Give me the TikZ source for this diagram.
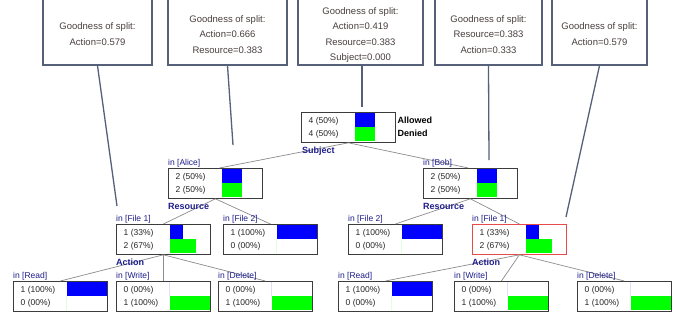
\documentclass[tikz,border=0pt]{standalone}
\usepackage{fontspec}
\setmainfont{Liberation Sans}
\usetikzlibrary{calc}
\definecolor{cline}{HTML}{56607A}
\definecolor{ctext}{HTML}{4A3F3F}
\definecolor{navy}{HTML}{1E1E8C}
\definecolor{bblue}{HTML}{0000FF}
\definecolor{bgreen}{HTML}{00FF00}
\definecolor{edgegray}{HTML}{8C8C8C}
\definecolor{nborder}{HTML}{3C3C3C}
\definecolor{hred}{HTML}{E84A4A}
\tikzset{
 callbox/.style={draw=cline, line width=1.3pt, fill=white, inner sep=0pt},
 calltext/.style={align=center, text=ctext, font=\fontsize{9.5}{15.5}\selectfont, inner sep=0pt},
 callline/.style={draw=cline, line width=1.3pt},
 tbox/.style={draw=nborder, line width=0.8pt, fill=white, minimum width=94pt, minimum height=30pt, inner sep=0pt, anchor=north west},
 rowtxt/.style={font=\fontsize{8.5}{10}\selectfont, text=black!85, inner sep=0pt, anchor=west},
 inlbl/.style={font=\fontsize{8.5}{10}\selectfont, text=navy, inner sep=0pt, anchor=base west},
 splitlbl/.style={font=\bfseries\fontsize{9}{10}\selectfont, text=navy, inner sep=0pt, anchor=base west},
 legendlbl/.style={font=\bfseries\fontsize{9}{10}\selectfont, text=black, inner sep=0pt, anchor=west},
 tedge/.style={draw=edgegray, line width=0.7pt},
}
\newcommand{\treenode}[7]{%
  \node[tbox,#7] (#1) at (#2) {};
  \fill[bblue] ($(#1.north west)+(53.5,1.2)$) rectangle ++(#5,14);
  \fill[bgreen] ($(#1.north west)+(53.5,15.2)$) rectangle ++(#6,14);
  \node[rowtxt] (#1-a) at ($(#1.north west)+(7.5,9)$) {#3};
  \node[rowtxt] (#1-b) at ($(#1.north west)+(7.5,22)$) {#4};
}
\begin{document}
\begin{tikzpicture}[x=1pt,y=-1pt]
\useasboundingbox (0,0) rectangle (689,322);
\clip (0,0) rectangle (689,322);
\fill[white] (0,0) rectangle (689,322);

% callout boxes
\node[callbox, minimum width=109pt, minimum height=66pt] (c1) at (97.5,32) {};
\node[callbox, minimum width=119pt, minimum height=66pt] (c2) at (227.5,32) {};
\node[callbox, minimum width=125pt, minimum height=66pt] (c3) at (360.5,32) {};
\node[callbox, minimum width=107pt, minimum height=66pt] (c4) at (488.5,32) {};
\node[callbox, minimum width=95pt, minimum height=66pt] (c5) at (599.5,32) {};
\node[calltext] (t1) at (97.5,34) {Goodness of split:\\Action=0.579};
\node[calltext] (t2) at (227.5,34.5) {Goodness of split:\\Action=0.666\\Resource=0.383};
\node[calltext] (t3) at (360.5,35) {Goodness of split:\\Action=0.419\\Resource=0.383\\Subject=0.000};
\node[calltext] (t4) at (488.5,34.5) {Goodness of split:\\Resource=0.383\\Action=0.333};
\node[calltext] (t5) at (599.5,34) {Goodness of split:\\Action=0.579};

\coordinate (p1) at (117,206);
\coordinate (p2) at (233,145);
\coordinate (p3) at (362,107);
\coordinate (p4) at (489,160);
\coordinate (p5) at (566,217);

% tree nodes
\treenode{root}{301,112}{4 (50\%)}{4 (50\%)}{20}{20}{}
\treenode{alice}{168,168}{2 (50\%)}{2 (50\%)}{20}{20}{}
\treenode{bob}{423,168}{2 (50\%)}{2 (50\%)}{20}{20}{}
\treenode{f1L}{116,224}{1 (33\%)}{2 (67\%)}{13.2}{26.8}{}
\treenode{f2L}{223,224}{1 (100\%)}{0 (00\%)}{40}{0}{}
\treenode{readL}{13,281}{1 (100\%)}{0 (00\%)}{40}{0}{}
\treenode{writeL}{116,281}{0 (00\%)}{1 (100\%)}{0}{40}{}
\treenode{delL}{218,281}{0 (00\%)}{1 (100\%)}{0}{40}{}
\treenode{f2R}{348,224}{1 (100\%)}{0 (00\%)}{40}{0}{}
\treenode{f1R}{472,224}{1 (33\%)}{2 (67\%)}{13.2}{26.8}{draw=hred}
\treenode{readR}{338,281}{1 (100\%)}{0 (00\%)}{40}{0}{}
\treenode{writeR}{454,281}{0 (00\%)}{1 (100\%)}{0}{40}{}
\treenode{delR}{577,281}{0 (00\%)}{1 (100\%)}{0}{40}{}

% tree edges
\draw[tedge] (root.south) -- ([xshift=4pt]alice.north);
\draw[tedge] (root.south) -- ([xshift=-2pt]bob.north);
\draw[tedge] (alice.south) -- (f1L.north);
\draw[tedge] (alice.south) -- (f2L.north);
\draw[tedge] (f1L.south) -- (readL.north);
\draw[tedge] (f1L.south) -- (writeL.north);
\draw[tedge] (f1L.south) -- (delL.north);
\draw[tedge] (bob.south) -- (f2R.north);
\draw[tedge] (bob.south) -- (f1R.north);
\draw[tedge] (f1R.south) -- (readR.north);
\draw[tedge] (f1R.south) -- (writeR.north);
\draw[tedge] (f1R.south) -- (delR.north);

% legend
\node[legendlbl] (allowed) at ($(root.north east)+(1.5,8)$) {Allowed};
\node[legendlbl] (denied) at ($(root.north east)+(1.5,21)$) {Denied};

% branch labels
\node[inlbl] (l-alice) at ($(alice.north west)+(0,-3)$) {in [Alice]};
\node[inlbl] (l-bob) at ($(bob.north west)+(0,-3)$) {in [Bob]};
\node[inlbl] (l-f1L) at ($(f1L.north west)+(0,-3)$) {in [File 1]};
\node[inlbl] (l-f2L) at ($(f2L.north west)+(0,-3)$) {in [File 2]};
\node[inlbl] (l-readL) at ($(readL.north west)+(0,-3)$) {in [Read]};
\node[inlbl] (l-writeL) at ($(writeL.north west)+(0,-3)$) {in [Write]};
\node[inlbl] (l-delL) at ($(delL.north west)+(0,-3)$) {in [Delete]};
\node[inlbl] (l-f2R) at ($(f2R.north west)+(0,-3)$) {in [File 2]};
\node[inlbl] (l-f1R) at ($(f1R.north west)+(0,-3)$) {in [File 1]};
\node[inlbl] (l-readR) at ($(readR.north west)+(0,-3)$) {in [Read]};
\node[inlbl] (l-writeR) at ($(writeR.north west)+(0,-3)$) {in [Write]};
\node[inlbl] (l-delR) at ($(delR.north west)+(0,-3)$) {in [Delete]};

% split labels
\node[splitlbl] (s-root) at ($(root.south west)+(1,10.5)$) {Subject};
\node[splitlbl] (s-alice) at ($(alice.south west)+(0,11)$) {Resource};
\node[splitlbl] (s-bob) at ($(bob.south west)+(0,11)$) {Resource};
\node[splitlbl] (s-f1L) at ($(f1L.south west)+(0,10.5)$) {Action};
\node[splitlbl] (s-f1R) at ($(f1R.south west)+(0,10.5)$) {Action};

% callout connectors
\draw[callline] (c1.south) -- (p1);
\draw[callline] (c2.south) -- (p2);
\draw[callline] ([xshift=1.5pt]c3.south) -- (p3);
\draw[callline] (c4.south) -- (p4);
\draw[callline] (c5.south) -- (p5);
\end{tikzpicture}
\end{document}
